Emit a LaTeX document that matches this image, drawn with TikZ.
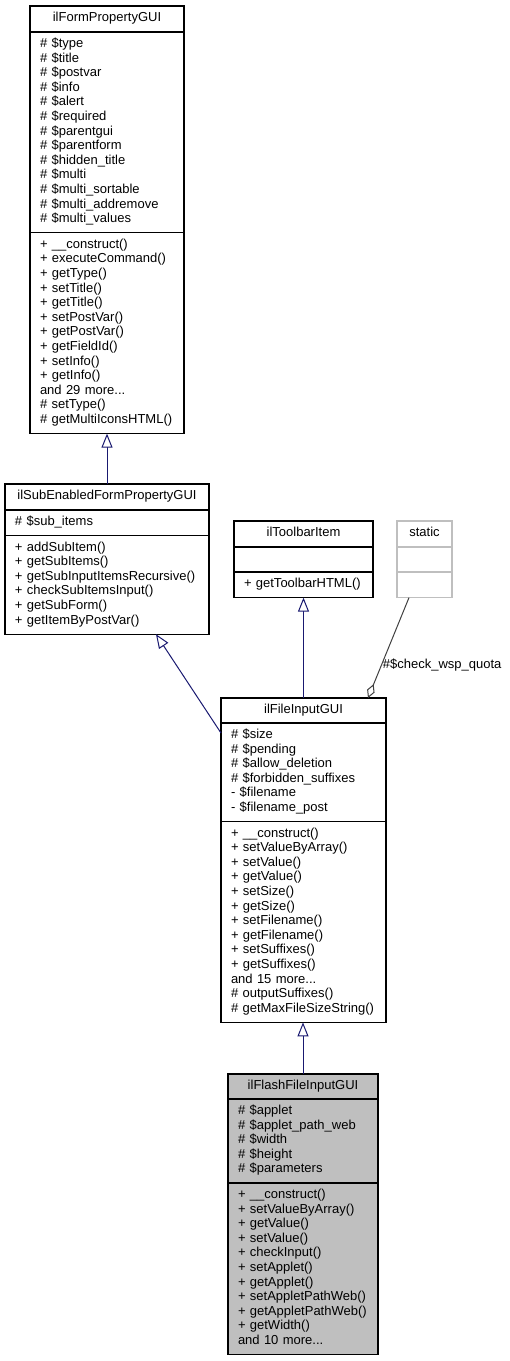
\documentclass[tikz,border=0pt]{standalone}
\usepackage{fontspec}
\setmainfont{Liberation Sans}
\usetikzlibrary{arrows.meta}
\definecolor{navyedge}{RGB}{25,25,112}
\definecolor{greyS}{RGB}{191,191,191}
\definecolor{greyA}{RGB}{64,64,64}
\newcommand\cfont{\fontsize{13}{14.6}\selectfont\hyphenpenalty=10000\exhyphenpenalty=10000}
\newcommand\cs{\rule[-4.6pt]{0pt}{14.6pt}}
\tikzset{
  comp/.style={draw=black, line width=1.2pt, anchor=north west, inner xsep=10pt, inner ysep=0pt,
    outer sep=0pt, align=left, font=\cfont},
  ttl/.style={comp, align=center},
  staticbox/.style={draw=greyS},
  shaded/.style={fill=greyS},
  inh/.style={draw=navyedge, line width=1pt, -{Triangle[open, length=14pt, width=11pt, fill=white]}},
  agg/.style={draw=greyA, line width=1pt, {Diamond[open, length=15pt, width=8pt, fill=white]}-},
  lbl/.style={font=\cfont, inner sep=1pt, text=black}
}
\begin{document}
\begin{tikzpicture}[x=1pt, y=-1pt]
\useasboundingbox (0,0) rectangle (510,1361);

% ilFormPropertyGUI
\node[ttl, text width=134pt, minimum height=26pt] (A-t) at (30,6) {\cs ilFormPropertyGUI};
\node[comp, text width=134pt, minimum height=200.8pt] (A-a) at (30,32) {\cs\#~\$type\\\cs\#~\$title\\\cs\#~\$postvar\\\cs\#~\$info\\\cs\#~\$alert\\\cs\#~\$required\\\cs\#~\$parentgui\\\cs\#~\$parentform\\\cs\#~\$hidden\_title\\\cs\#~\$multi\\\cs\#~\$multi\_sortable\\\cs\#~\$multi\_addremove\\\cs\#~\$multi\_values};
\node[comp, text width=134pt, minimum height=200.8pt] (A-m) at (30,232.8) {\cs+~\_\_construct()\\\cs+~executeCommand()\\\cs+~getType()\\\cs+~setTitle()\\\cs+~getTitle()\\\cs+~setPostVar()\\\cs+~getPostVar()\\\cs+~getFieldId()\\\cs+~setInfo()\\\cs+~getInfo()\\\cs and~29~more...\\\cs\#~setType()\\\cs\#~getMultiIconsHTML()};

% ilSubEnabledFormPropertyGUI
\node[ttl, text width=184pt, minimum height=26pt] (B-t) at (5,484) {\cs ilSubEnabledFormPropertyGUI};
\node[comp, text width=184pt, minimum height=25.6pt] (B-a) at (5,510) {\cs\#~\$sub\_items};
\node[comp, text width=184pt, minimum height=98.6pt] (B-m) at (5,535.6) {\cs+~addSubItem()\\\cs+~getSubItems()\\\cs+~getSubInputItemsRecursive()\\\cs+~checkSubItemsInput()\\\cs+~getSubForm()\\\cs+~getItemByPostVar()};

% ilToolbarItem
\node[ttl, text width=119pt, minimum height=26pt] (C-t) at (234,521) {\cs ilToolbarItem};
\node[comp, text width=119pt, minimum height=25pt] (C-a) at (234,547) {};
\node[comp, text width=119pt, minimum height=25.6pt] (C-m) at (234,572) {\cs+~getToolbarHTML()};

% static
\node[ttl, staticbox, text width=35pt, minimum height=26pt] (S-t) at (397,521) {\cs static};
\node[comp, staticbox, text width=35pt, minimum height=25pt] (S-a) at (397,547) {};
\node[comp, staticbox, text width=35pt, minimum height=25.6pt] (S-m) at (397,572) {};

% ilFileInputGUI
\node[ttl, text width=145pt, minimum height=25pt] (D-t) at (221,698) {\cs ilFileInputGUI};
\node[comp, text width=145pt, minimum height=98.6pt] (D-a) at (221,723) {\cs\#~\$size\\\cs\#~\$pending\\\cs\#~\$allow\_deletion\\\cs\#~\$forbidden\_suffixes\\\cs-~\$filename\\\cs-~\$filename\_post};
\node[comp, text width=145pt, minimum height=200.8pt] (D-m) at (221,821.6) {\cs+~\_\_construct()\\\cs+~setValueByArray()\\\cs+~setValue()\\\cs+~getValue()\\\cs+~setSize()\\\cs+~getSize()\\\cs+~setFilename()\\\cs+~getFilename()\\\cs+~setSuffixes()\\\cs+~getSuffixes()\\\cs and~15~more...\\\cs\#~outputSuffixes()\\\cs\#~getMaxFileSizeString()};

% ilFlashFileInputGUI
\node[ttl, shaded, text width=130pt, minimum height=25pt] (E-t) at (228,1074) {\cs ilFlashFileInputGUI};
\node[comp, shaded, text width=130pt, minimum height=84pt] (E-a) at (228,1099) {\cs\#~\$applet\\\cs\#~\$applet\_path\_web\\\cs\#~\$width\\\cs\#~\$height\\\cs\#~\$parameters};
\node[comp, shaded, text width=130pt, minimum height=171.6pt] (E-m) at (228,1183) {\cs+~\_\_construct()\\\cs+~setValueByArray()\\\cs+~getValue()\\\cs+~setValue()\\\cs+~checkInput()\\\cs+~setApplet()\\\cs+~getApplet()\\\cs+~setAppletPathWeb()\\\cs+~getAppletPathWeb()\\\cs+~getWidth()\\\cs and~10~more...};

% connectors
\draw[inh] (B-t.north) -- (B-t.north |- A-m.south);
\draw[inh] ([yshift=-10pt]D-a.north west) -- ([xshift=49pt]B-m.south);
\draw[inh] (D-t.north) -- (D-t.north |- C-m.south);
\draw[agg] ([xshift=-18pt]D-t.north east) -- ([xshift=-15.5pt]S-m.south)
  node[lbl, pos=0.327, anchor=west] {\#\$check\_wsp\_quota};
\draw[inh] (E-t.north) -- (E-t.north |- D-m.south);
\end{tikzpicture}
\end{document}
